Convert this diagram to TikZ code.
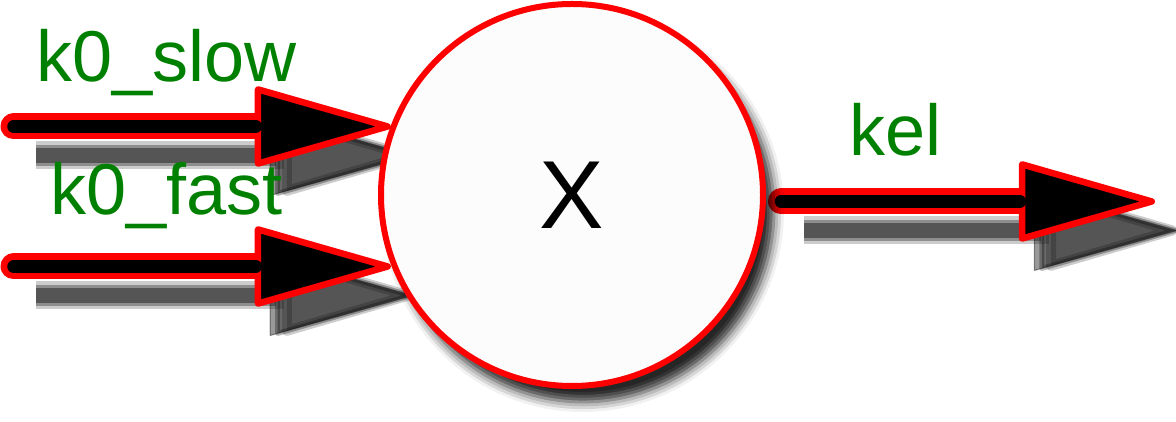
\documentclass[tikz,border=0pt]{standalone}
\usepackage{fontspec}
\setmainfont{Liberation Sans}
\usepackage{tikz}
\usetikzlibrary{positioning}
\usetikzlibrary{arrows.meta}
\usetikzlibrary{shadows.blur}
\usepackage{xcolor}
\definecolor{labelgreen}{RGB}{0,128,0}
\pgfdeclarelayer{background}
\pgfsetlayers{background,main}

\tikzset{
    flow/.style={
        draw=red, line width=0.52cm, line cap=round,
        -{Triangle[length=2.9cm, width=1.62cm, line width=0.13cm, fill=black, round]},
        preaction={draw=black, opacity=0.2, line width=0.56cm, transform canvas={shift={(0.45,-0.58)}},
            -{Triangle[length=2.9cm, width=1.62cm, line width=0.2cm, round]}},
        preaction={draw=black, opacity=0.3, line width=0.42cm, transform canvas={shift={(0.45,-0.58)}},
            -{Triangle[length=2.9cm, width=1.62cm, line width=0.1cm, round]}},
        preaction={draw=black, opacity=0.4, line width=0.3cm, transform canvas={shift={(0.45,-0.58)}},
            -{Triangle[length=2.9cm, width=1.62cm, line width=0.02cm, round]}},
        postaction={draw=black, line width=0.25cm, line cap=round, arrows=-, shorten >=2.7cm}
    },
    lbl/.style={text=labelgreen, font=\fontsize{41}{41}\selectfont, inner sep=0pt, text depth=0pt}
}

\begin{document}
\begin{tikzpicture}
        \useasboundingbox (0,0) rectangle (23.52,8.44);
        % nodes
        \node[circle, draw=red, line width=0.12cm, fill=white!99!black, minimum size=7.64cm, inner sep=0pt,
            font=\fontsize{55}{55}\selectfont,
            blur shadow={shadow xshift=0.22cm, shadow yshift=-0.32cm, shadow blur radius=0.2cm, shadow opacity=85}] (x) at (11.44,4.54) {X};
        \coordinate (slowin) at (0.27,5.91);
        \coordinate (fastin) at (0.27,3.11);
        \coordinate (kelout) at (23.1,4.41);
        % arrows
        \begin{pgfonlayer}{background}
        \draw[flow] (slowin) -- node[lbl, pos=0.406, above=0.63cm]{k0\_slow} (slowin -| x.159);
        \draw[flow] (fastin) -- node[lbl, pos=0.405, above=0.77cm]{k0\_fast} (fastin -| x.201);
        \draw[flow, shorten <=0.3cm] (x.east |- kelout) -- node[lbl, pos=0.332, above=0.65cm]{kel} (kelout);
        \end{pgfonlayer}
    \end{tikzpicture}
\end{document}
